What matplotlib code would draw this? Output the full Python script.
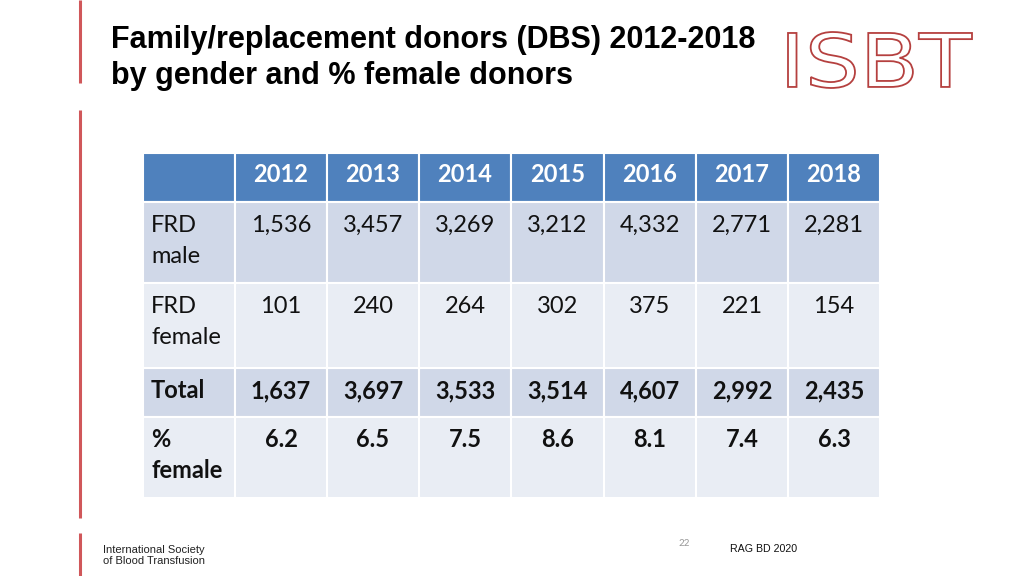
import matplotlib
matplotlib.use("Agg")
import matplotlib.pyplot as plt
from matplotlib.patches import Rectangle
from matplotlib.textpath import TextPath
from matplotlib.patches import PathPatch
from matplotlib.font_manager import FontProperties
from matplotlib.transforms import Affine2D

years = ["2012", "2013", "2014", "2015", "2016", "2017", "2018"]
row_labels = ["FRD\nmale", "FRD\nfemale", "Total", "%\nfemale"]
frd_male = ["1,536", "3,457", "3,269", "3,212", "4,332", "2,771", "2,281"]
frd_female = ["101", "240", "264", "302", "375", "221", "154"]
total = ["1,637", "3,697", "3,533", "3,514", "4,607", "2,992", "2,435"]
pct_female = ["6.2", "6.5", "7.5", "8.6", "8.1", "7.4", "6.3"]
rows = [frd_male, frd_female, total, pct_female]
bold_rows = [False, False, True, True]

fig = plt.figure(figsize=(10.24, 5.76), dpi=100)
ax = fig.add_axes([0, 0, 1, 1])
ax.set_xlim(0, 1024)
ax.set_ylim(576, 0)
ax.axis("off")

TFONT = "Lato"
FS = 17

# left red accent lines
for y0, y1 in [(0, 83), (110, 518), (533, 576)]:
    ax.plot([80, 80], [y0, y1], color="#D0575A", lw=2.2, solid_capstyle="butt")

# title
ax.text(111, 48, "Family/replacement donors (DBS) 2012-2018", fontsize=22,
        fontweight="bold", family="Liberation Sans", color="black", va="baseline")
ax.text(111, 84, "by gender and % female donors", fontsize=22,
        fontweight="bold", family="Liberation Sans", color="black", va="baseline")

# logo ISBT as outlined text
fp = FontProperties(family="DejaVu Sans", weight="normal")
tp = TextPath((0, 0), "ISBT", prop=fp, size=60)
bb = tp.get_extents()
sx = (972 - 788) / bb.width
sy = (88 - 32) / bb.height
tr = Affine2D().translate(-bb.x0, -bb.y0).scale(sx, -sy).translate(788, 88)
ax.add_patch(PathPatch(tr.transform_path(tp), facecolor="white", edgecolor="#B5403F", lw=1.3))

# table geometry
x_edges = [143, 235, 327, 419, 511, 604, 696, 788, 880]
y_edges = [153, 202, 283, 368, 417, 498]
header_c = "#4F81BD"
fills = ["#D0D8E8", "#E9EDF4", "#D0D8E8", "#E9EDF4"]

# header
for c in range(len(x_edges) - 1):
    ax.add_patch(Rectangle((x_edges[c], y_edges[0]), x_edges[c + 1] - x_edges[c],
                           y_edges[1] - y_edges[0], facecolor=header_c,
                           edgecolor="white", lw=1.5))
for j, yr in enumerate(years):
    xc = (x_edges[j + 1] + x_edges[j + 2]) / 2
    ax.text(xc, 182, yr, ha="center", va="baseline",
            fontsize=FS, fontweight="bold", color="white", family=TFONT)

for r, vals in enumerate(rows):
    y0, y1 = y_edges[r + 1], y_edges[r + 2]
    for c in range(len(x_edges) - 1):
        ax.add_patch(Rectangle((x_edges[c], y0), x_edges[c + 1] - x_edges[c],
                               y1 - y0, facecolor=fills[r], edgecolor="white", lw=1.5))
    fw = "bold" if bold_rows[r] else "normal"
    base = y0 + 30
    for i, line in enumerate(row_labels[r].split("\n")):
        ax.text(151, base + i * 31, line, ha="left", va="baseline", fontsize=FS,
                fontweight=fw, color="#111111", family=TFONT)
    for j, v in enumerate(vals):
        xc = (x_edges[j + 1] + x_edges[j + 2]) / 2
        ax.text(xc, base, v, ha="center", va="baseline", fontsize=FS,
                fontweight=fw, color="#111111", family=TFONT)

# footer
ax.text(103, 550, "International Society", fontsize=8, family="Liberation Sans",
        color="#222222", va="center")
ax.text(103, 561, "of Blood Transfusion", fontsize=8, family="Liberation Sans",
        color="#222222", va="center")
ax.text(684, 544, "22", fontsize=7, family="Lato", color="#999999",
        ha="center", va="center")
ax.text(730, 549, "RAG BD 2020", fontsize=7.7, family="Liberation Sans",
        color="#111111", va="center")

fig.savefig("out.png", dpi=100)
